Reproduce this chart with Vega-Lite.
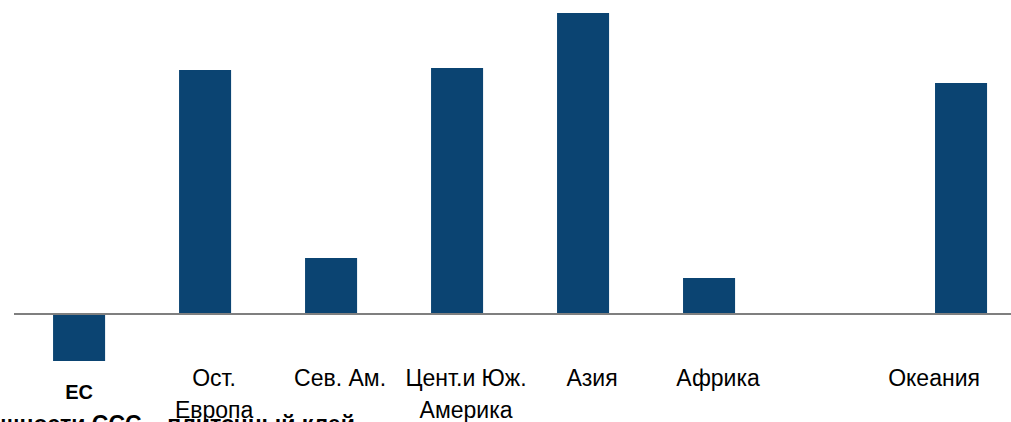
{
  "$schema": "https://vega.github.io/schema/vega-lite/v6.json",
  "autosize": {"type": "none"},
  "width": 997,
  "height": 348,
  "padding": {"left": 14, "top": 13, "right": 0, "bottom": 61},
  "background": "white",
  "config": {"view": {"stroke": null}, "font": "Liberation Sans"},
  "title": {
    "text": "Мощности ССС – плиточный клей",
    "orient": "bottom",
    "anchor": "start",
    "dx": -46,
    "offset": -8,
    "font": "Liberation Sans",
    "fontSize": 23,
    "fontWeight": "bold",
    "color": "black"
  },
  "data": {
    "values": [
      {"region": "ЕС", "value": -4.7},
      {"region": "Ост.|Европа", "value": 24.4},
      {"region": "Сев. Ам.", "value": 5.6},
      {"region": "Цент.и Юж.|Америка", "value": 24.6},
      {"region": "Азия", "value": 30.1},
      {"region": "Африка", "value": 3.6},
      {"region": "Океания", "value": 23.1}
    ]
  },
  "layer": [
    {
      "mark": {"type": "bar", "color": "#0B4472"},
      "encoding": {
        "x": {
          "field": "region",
          "type": "nominal",
          "sort": null,
          "scale": {
            "domain": ["ЕС", "Ост.|Европа", "Сев. Ам.", "Цент.и Юж.|Америка", "Азия", "Африка", " ", "Океания"],
            "paddingInner": 0.587,
            "paddingOuter": 0.25,
            "align": 0.62
          },
          "axis": {
            "title": null,
            "domain": false,
            "ticks": false,
            "grid": false,
            "labelAngle": 0,
            "labelExpr": "split(datum.label, '|')",
            "labelFont": "Liberation Sans",
            "labelLineHeight": 32,
            "labelColor": "black",
            "labelBaseline": "top",
            "labelFontWeight": {"condition": {"test": "datum.value === 'ЕС'", "value": "bold"}, "value": "normal"},
            "labelFontSize": {"condition": {"test": "datum.value === 'ЕС'", "value": 20}, "value": 23},
            "labelPadding": {"condition": {"test": "datum.value === 'ЕС'", "value": 21}, "value": 6},
            "labelOffset": {"condition": [{"test": "datum.value === 'ЕС'", "value": 0}, {"test": "datum.value === 'Океания'", "value": -27}], "value": 9},
            "labelOverlap": false,
            "labelLimit": 0
          }
        },
        "y": {
          "field": "value",
          "type": "quantitative",
          "scale": {"domain": [-4.7, 30.1], "nice": false, "zero": false},
          "axis": null
        }
      }
    },
    {
      "mark": {"type": "rule", "color": "#7F7F7F", "strokeWidth": 2},
      "encoding": {"y": {"datum": 0}}
    }
  ]
}
